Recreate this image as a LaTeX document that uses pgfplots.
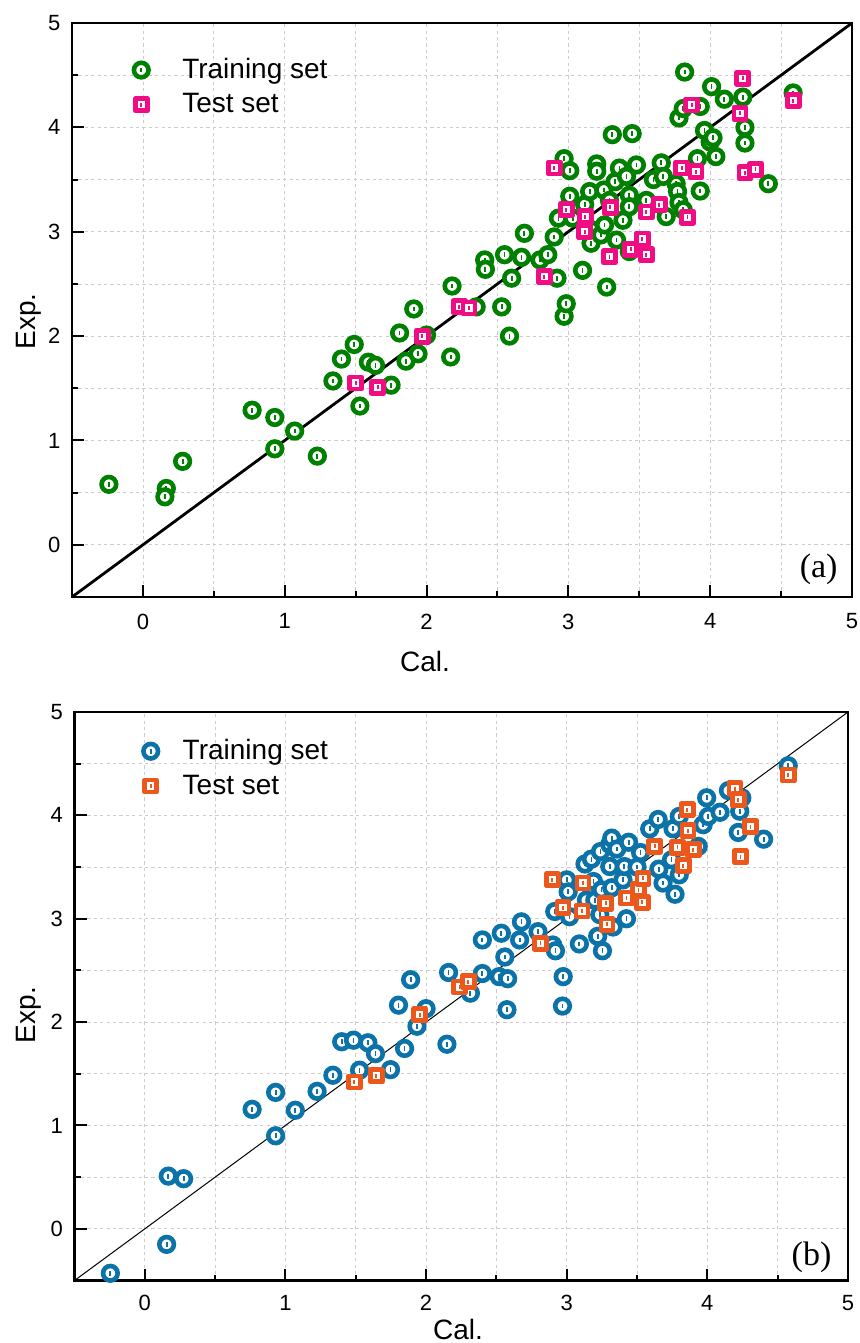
\documentclass[border=0pt]{standalone}
\usepackage{fontspec}
\setmainfont{Liberation Sans}
\newfontfamily\tnr{Liberation Serif}
\usepackage{pgfplots}
\pgfplotsset{compat=1.18}
\definecolor{cgreen}{RGB}{0,128,0}
\definecolor{cpink}{RGB}{240,12,130}
\definecolor{cblue}{RGB}{12,115,168}
\definecolor{corange}{RGB}{236,88,28}
\newcommand\defring[2]{%
\pgfdeclareplotmark{#1}{%
 \pgfsetlinewidth{2.3pt}\pgfsetstrokecolor{#2}\pgfsetfillcolor{white}%
 \pgfpathcircle{\pgfpointorigin}{3.65pt}\pgfusepathqfillstroke
 \pgfsetfillcolor{#2}%
 \pgfpathrectangle{\pgfpoint{-0.45pt}{-1.2pt}}{\pgfpoint{0.9pt}{2.4pt}}\pgfusepathqfill}}
\newcommand\defsq[2]{%
\pgfdeclareplotmark{#1}{%
 \pgfsetlinewidth{2.4pt}\pgfsetstrokecolor{#2}\pgfsetfillcolor{white}\pgfsetroundjoin
 \pgfpathrectangle{\pgfpoint{-3pt}{-3pt}}{\pgfpoint{6pt}{6pt}}\pgfusepathqfillstroke
 \pgfsetfillcolor{#2}%
 \pgfpathrectangle{\pgfpoint{-0.45pt}{-1pt}}{\pgfpoint{0.9pt}{2pt}}\pgfusepathqfill}}
\defring{ringG}{cgreen}
\defring{ringB}{cblue}
\defsq{sqP}{cpink}
\defsq{sqO}{corange}

\pgfplotsset{
 common/.style={
  scale only axis,
  xmin=-0.5,xmax=5,ymin=-0.5,ymax=5,
  xtick={0,1,2,3,4,5}, ytick={0,1,2,3,4,5},
  minor tick num=1,
  tick align=inside, xtick pos=bottom, ytick pos=left,
  major tick length=6pt, minor tick length=3pt,
  tick style={line width=1pt,black},
  axis line style={line width=1.3pt},
  grid=both,
  major grid style={gray!40,line width=0.4pt,dash pattern=on 1.6pt off 1.6pt},
  minor grid style={gray!40,line width=0.4pt,dash pattern=on 1.6pt off 1.6pt},
  /pgf/number format/assume math mode=true,
  ticklabel style={font=\fontsize{11}{13}\selectfont},
  yticklabel style={xshift=-2.3pt},
  label style={font=\fontsize{14}{17}\selectfont, inner sep=0pt},
  legend style={draw=none, fill=none, inner sep=0pt, font=\fontsize{14}{17}\selectfont,
    cells={anchor=west}, /tikz/row sep=2pt},
 },
 mk/.style={only marks, mark=#1,
   legend image code/.code={%
     \pgfpathrectangle{\pgfpoint{-5pt}{-5pt}}{\pgfpoint{10pt}{10pt}}\pgfusepath{use as bounding box}%
     \pgfuseplotmark{#1}}},
}

\begin{document}
\begin{tikzpicture}
\path[use as bounding box] (0,0) rectangle (430pt,-671.5pt);
% ---------- panel (a)
\begin{axis}[common,
  at={(36pt,-298.5pt)}, anchor=south west, width=390pt, height=287pt,
  xticklabel style={yshift=-4.8pt},
  xlabel={Cal.}, ylabel={Exp.},
  xlabel style={at={(axis description cs:0.4526,-0.129)}, anchor=base},
  ylabel style={at={(axis description cs:-0.0385,0.48)}, anchor=south, rotate=0},
  legend style={at={(axis cs:-0.085,4.385)}, anchor=west,
    /tikz/every odd column/.append style={column sep=13.5pt}},
]
\addplot[black, line width=1.4pt, forget plot] coordinates {(-0.5,-0.5) (5,5)};
\addplot[mk=ringG] table {
x y
-0.24 0.58
0.165 0.54
0.155 0.46
0.28 0.80
0.77 1.29
0.93 1.22
0.93 0.92
1.07 1.09
1.23 0.85
1.34 1.57
1.40 1.78
1.49 1.92
1.53 1.33
1.59 1.75
1.64 1.72
1.75 1.53
1.81 2.03
1.855 1.76
1.91 2.26
1.94 1.83
2.00 2.01
2.17 1.80
2.18 2.48
2.35 2.28
2.53 2.28
2.585 2.00
2.97 2.19
2.985 2.31
2.41 2.73
2.415 2.64
2.55 2.78
2.60 2.555
2.67 2.755
2.69 2.985
2.80 2.73
2.855 2.78
2.90 2.95
2.92 2.555
2.93 3.13
2.97 3.70
3.01 3.585
3.01 3.34
3.03 3.13
3.10 2.63
3.115 3.26
3.15 3.385
3.16 3.02
3.16 2.89
3.20 3.65
3.20 3.58
3.23 2.97
3.25 3.40
3.255 3.065
3.27 2.47
3.29 3.30
3.31 3.93
3.33 3.48
3.34 2.92
3.36 3.61
3.385 3.11
3.41 3.53
3.43 3.35
3.43 3.24
3.43 2.81
3.45 3.94
3.48 3.64
3.55 3.30
3.60 3.50
3.655 3.66
3.67 3.53
3.69 3.145
3.76 3.46
3.77 3.385
3.78 3.28
3.78 4.09
3.81 4.18
3.81 3.21
3.82 4.53
3.91 3.70
3.93 4.20
3.93 3.39
3.96 3.97
4.00 3.86
4.02 3.90
4.01 4.39
4.04 3.72
4.10 4.27
4.23 4.29
4.245 4.00
4.245 3.85
4.41 3.46
4.585 4.33
};
\addlegendentry{Training set}
\addplot[mk=sqP] table {
x y
1.50 1.55
1.655 1.51
1.97 2.00
2.23 2.28
2.30 2.27
2.83 2.57
2.90 3.61
2.985 3.21
3.115 3.00
3.12 3.145
3.29 2.76
3.295 3.235
3.44 2.83
3.52 2.93
3.55 2.78
3.55 3.19
3.64 3.26
3.80 3.61
3.84 3.14
3.87 4.215
3.90 3.575
4.21 4.135
4.23 4.47
4.245 3.565
4.32 3.60
4.585 4.255
};
\addlegendentry{Test set}
\node[anchor=south east, inner sep=0pt, font=\tnr\fontsize{17}{20}\selectfont] at (rel axis cs:0.982,0.021) {(a)};
\end{axis}
% ---------- panel (b)
\begin{axis}[common,
  at={(37.25pt,-640.25pt)}, anchor=south west, width=386.75pt, height=284.25pt,
  xticklabel style={yshift=-3.8pt},
  xlabel={Cal.}, ylabel={Exp.},
  xlabel style={at={(axis description cs:0.4958,-0.103)}, anchor=base},
  ylabel style={at={(axis description cs:-0.042,0.467)}, anchor=south, rotate=0},
  legend style={at={(axis cs:-0.032,4.455)}, anchor=west,
    /tikz/every odd column/.append style={column sep=9pt}},
]
\addplot[black, line width=0.5pt, forget plot] coordinates {(-0.5,-0.5) (5,5)};
\addplot[mk=ringB] table {
x y
-0.245 -0.43
0.155 -0.15
0.167 0.51
0.276 0.485
0.763 1.156
0.93 1.32
0.93 0.90
1.07 1.147
1.225 1.33
1.337 1.486
1.40 1.81
1.484 1.825
1.527 1.535
1.586 1.80
1.64 1.695
1.747 1.54
1.804 2.164
1.847 1.745
1.89 2.41
1.935 1.96
2.0 2.13
2.148 1.786
2.16 2.48
2.315 2.28
2.40 2.795
2.40 2.47
2.52 2.44
2.535 2.86
2.56 2.63
2.575 2.12
2.58 2.42
2.665 2.795
2.678 2.97
2.796 2.875
2.90 2.746
2.92 2.69
2.915 3.07
2.97 2.155
2.975 2.44
3.0 3.376
3.01 3.26
3.02 3.02
3.09 2.756
3.13 3.53
3.14 3.18
3.176 3.577
3.19 3.36
3.20 3.18
3.22 2.83
3.235 3.04
3.24 3.65
3.247 3.28
3.254 2.69
3.306 3.505
3.306 3.72
3.32 3.78
3.32 3.30
3.33 2.92
3.355 3.674
3.40 3.376
3.41 3.505
3.425 3.00
3.44 3.74
3.50 3.50
3.525 3.64
3.59 3.87
3.65 3.96
3.655 3.48
3.685 3.345
3.745 3.57
3.756 3.87
3.77 3.237
3.80 3.99
3.80 3.425
3.935 3.70
3.97 3.91
3.995 4.17
4.006 3.99
4.09 4.03
4.15 4.24
4.22 3.835
4.23 4.04
4.245 4.17
4.40 3.77
4.575 4.48
};
\addlegendentry{Training set}
\addplot[mk=sqO] table {
x y
1.49 1.42
1.645 1.48
1.955 2.07
2.238 2.34
2.30 2.39
2.813 2.763
2.898 3.376
2.974 3.107
3.109 3.075
3.116 3.345
3.278 3.15
3.287 2.946
3.425 3.20
3.51 3.28
3.536 3.16
3.543 3.39
3.626 3.70
3.788 3.69
3.828 3.515
3.856 4.055
3.863 3.85
3.90 3.667
4.196 4.26
4.22 4.15
4.236 3.60
4.307 3.89
4.575 4.39
};
\addlegendentry{Test set}
\node[anchor=south east, inner sep=0pt, font=\tnr\fontsize{17}{20}\selectfont] at (rel axis cs:0.979,0.0127) {(b)};
\end{axis}
\end{tikzpicture}
\end{document}
